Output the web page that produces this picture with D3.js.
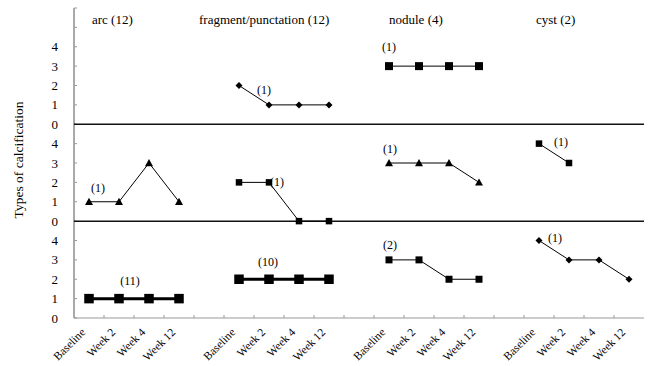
<!DOCTYPE html>
<html>
<head>
<meta charset="utf-8">
<script src="https://cdn.jsdelivr.net/npm/d3@7"></script>
<style>
  body { margin: 0; background: #fff; }
  svg text { font-family: "Liberation Serif", "DejaVu Serif", serif; fill: #000; }
  .tick-label { font-size: 13px; }
  .title { font-size: 13px; }
  .count { font-size: 12px; }
  .xlabel { font-size: 11.5px; }
</style>
</head>
<body>
<svg width="652" height="366"></svg>
<script>
// time points shown under each group
const weeks = ["Baseline", "Week 2", "Week 4", "Week 12"];
const groups = ["arc (12)", "fragment/punctation (12)", "nodule (4)", "cyst (2)"];
const yTickLabels = [0, 1, 2, 3, 4];

// values per panel (top, middle, bottom) for each group; null = no series
const topValues    = [null, [2, 1, 1, 1], [3, 3, 3, 3], null];
const middleValues = [[1, 1, 3, 1], [2, 2, 0, 0], [3, 3, 3, 2], [4, 3]];
const bottomValues = [[1, 1, 1, 1], [2, 2, 2, 2], [3, 3, 2, 2], [4, 3, 3, 2]];

// number of patients in each series
const topCounts    = [null, 1, 1, null];
const middleCounts = [1, 1, 1, 1];
const bottomCounts = [11, 10, 2, 1];

const mLeft = 74, mRight = 644, mTop = 8, mBottom = 318;

const svg = d3.select("svg");

// 19 category slots: 4 weeks per group with an empty slot between groups
const slots = [];
groups.forEach((g, gi) => {
  weeks.forEach(wk => slots.push(gi + "|" + wk));
  if (gi < groups.length - 1) slots.push("gap" + gi);
});
const x = d3.scaleBand().domain(slots).range([mLeft, mRight]);
const cx = (gi, wi) => x(gi + "|" + weeks[wi]) + x.bandwidth() / 2;

// one linear scale, each panel is shifted up by its offset
const y = d3.scaleLinear().domain([0, 16]).range([mBottom, mTop]);
const panelOffset = { top: 10, middle: 5, bottom: 0 };

// marker styles per panel/group
const styles = {
  top:    [null, { m: "diamond", s: 6, lw: 1 }, { m: "square", s: 8, lw: 1 }, null],
  middle: [{ m: "triangle", s: 8, lw: 1 }, { m: "square", s: 6.5, lw: 1 }, { m: "triangle", s: 8, lw: 1 }, { m: "square", s: 6.5, lw: 1 }],
  bottom: [{ m: "square", s: 9.5, lw: 3 }, { m: "square", s: 9.5, lw: 3 }, { m: "square", s: 7, lw: 1 }, { m: "diamond", s: 6, lw: 1 }]
};
// count label offsets from a reference point [week index, dx, dy]
const countPos = {
  top:    [null, [0, 25, 8], [0, 0, -15], null],
  middle: [[0, 9, -10], [1, 8, 4], [0, 1, -10], [0, 22, 2]],
  bottom: [[1, 11, -14], [1, -1, -13], [0, 1, -11], [0, 16, 1]]
};

// y axis line and ticks
svg.append("line")
  .attr("x1", mLeft).attr("x2", mLeft).attr("y1", mTop).attr("y2", mBottom)
  .attr("stroke", "#555").attr("stroke-width", 1);
svg.selectAll("line.ytick")
  .data(d3.range(0, 17))
  .join("line").attr("class", "ytick")
  .attr("x1", mLeft).attr("x2", mLeft + 3)
  .attr("y1", d => y(d)).attr("y2", d => y(d))
  .attr("stroke", "#999");

Object.entries(panelOffset).forEach(([p, off]) => {
  svg.selectAll(null)
    .data(yTickLabels)
    .join("text").attr("class", "tick-label")
    .attr("x", 58).attr("y", d => y(d + off) + 4.5)
    .attr("text-anchor", "end")
    .text(d => d);
});

// zero lines of top and middle panels
[panelOffset.top, panelOffset.middle].forEach(off => {
  svg.append("line")
    .attr("x1", mLeft).attr("x2", mRight)
    .attr("y1", y(off)).attr("y2", y(off))
    .attr("stroke", "#111").attr("stroke-width", 1.5);
});

// bottom category axis (light, ticks between slots)
svg.append("line")
  .attr("x1", mLeft).attr("x2", mRight).attr("y1", mBottom).attr("y2", mBottom)
  .attr("stroke", "#999").attr("stroke-width", 1);
svg.selectAll("line.xtick")
  .data(slots.slice(1))
  .join("line").attr("class", "xtick")
  .attr("x1", d => x(d)).attr("x2", d => x(d))
  .attr("y1", mBottom).attr("y2", mBottom - 3)
  .attr("stroke", "#999");

groups.forEach((g, gi) => {
  weeks.forEach((wk, wi) => {
    const px = cx(gi, wi) - 3, py = 333;
    svg.append("text").attr("class", "xlabel")
      .attr("text-anchor", "end")
      .attr("transform", `translate(${[px, py]}) rotate(-45)`)
      .text(wk);
  });
});

// group titles
const titleDx = [3, -40, 0, -3];
groups.forEach((g, gi) => {
  svg.append("text").attr("class", "title")
    .attr("x", cx(gi, 0) + titleDx[gi]).attr("y", 24)
    .text(g);
});

// y axis title
svg.append("text")
  .attr("transform", `translate(${[23, 160]}) rotate(-90)`)
  .attr("text-anchor", "middle")
  .style("font-size", "13.5px")
  .text("Types of calcification");

function marker(sel, m, s) {
  if (m === "square") {
    sel.append("rect").attr("x", -s / 2).attr("y", -s / 2).attr("width", s).attr("height", s);
  } else if (m === "diamond") {
    const r = s / 2 + 0.5;
    sel.append("path").attr("d", `M0,${-r}L${r},0L0,${r}L${-r},0Z`);
  } else {
    const r = s / 2;
    sel.append("path").attr("d", `M0,${-r}L${r},${r * 0.8}L${-r},${r * 0.8}Z`);
  }
}

const panels = { top: [topValues, topCounts], middle: [middleValues, middleCounts], bottom: [bottomValues, bottomCounts] };
const line = d3.line().x(d => d[0]).y(d => d[1]);

Object.entries(panels).forEach(([p, [vals, counts]]) => {
  const off = panelOffset[p];
  vals.forEach((series, gi) => {
    if (!series) return;
    const st = styles[p][gi];
    const pts = series.map((v, wi) => [cx(gi, wi), y(v + off)]);
    svg.append("path")
      .attr("d", line(pts))
      .attr("fill", "none").attr("stroke", "#000").attr("stroke-width", st.lw);
    svg.selectAll(null)
      .data(pts)
      .join("g")
      .attr("transform", d => `translate(${d})`)
      .attr("fill", "#000")
      .each(function () { marker(d3.select(this), st.m, st.s); });

    const cp = countPos[p][gi];
    const ref = pts[cp[0]];
    svg.append("text").attr("class", "count")
      .attr("text-anchor", "middle")
      .attr("x", ref[0] + cp[1]).attr("y", ref[1] + cp[2])
      .text("(" + counts[gi] + ")");
  });
});
</script>
</body>
</html>
